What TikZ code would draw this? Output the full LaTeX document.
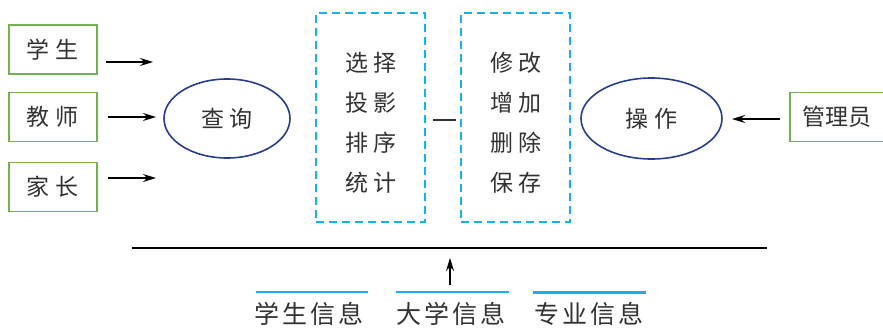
\documentclass[tikz,border=0pt]{standalone}
\usepackage{fontspec}
\setmainfont{Noto Sans CJK SC}
\usetikzlibrary{arrows.meta,shapes.geometric}
\definecolor{gbox}{RGB}{118,176,84}
\definecolor{eblue}{RGB}{40,62,140}
\definecolor{cyanb}{RGB}{24,176,232}
\definecolor{txt}{RGB}{50,50,50}
\newcommand{\zw}{\hspace{6pt}}
\newcommand{\zb}{\hspace{3pt}}
\tikzset{
  x=1pt,y=-1pt,
  every node/.style={text=txt,font=\fontsize{23}{40}\selectfont},
  actor/.style={draw=gbox,line width=1.6pt,minimum width=88pt,minimum height=49pt,inner sep=0pt},
  oval/.style={draw=eblue,line width=1.6pt,ellipse,inner sep=0pt},
  dbox/.style={draw=cyanb,line width=2.8pt,dash pattern=on 8pt off 5pt,minimum width=109pt,minimum height=209pt,inner sep=0pt},
  arr/.style={draw=black,line width=1.3pt,-{Stealth[length=13pt,width=8pt]}},
  cline/.style={draw=cyanb,line width=2.5pt},
  lbl/.style={inner sep=0pt}
}
\begin{document}
\begin{tikzpicture}
\useasboundingbox (0,0) rectangle (883,329);
% actors
\node[actor] (s1) at (53,49.5) {学\zw 生};
\node[actor] (s2) at (53,117) {教\zw 师};
\node[actor] (s3) at (53,187) {家\zw 长};
\node[actor,minimum width=94pt] (adm) at (837,117) {管理员};
% ellipses
\node[oval,minimum width=126pt,minimum height=79pt] (q) at (227,118.5) {查\zw 询};
\node[oval,minimum width=141pt,minimum height=81pt] (op) at (651.5,118.5) {操\zw 作};
% dashed boxes
\node[dbox] (b1) at (370.5,117.5) {};
\node[dbox] (b2) at (515.5,117.5) {};
\node[lbl,align=center] (t1) at (371,123) {选\zw 择\\投\zw 影\\排\zw 序\\统\zw 计};
\node[lbl,align=center] (t2) at (516,123) {修\zw 改\\增\zw 加\\删\zw 除\\保\zw 存};
% arrow end points
\coordinate (a1s) at (106,62); \coordinate (a1e) at (153,62);
\coordinate (a2s) at (108,117); \coordinate (a2e) at (156,117);
\coordinate (a3s) at (108,178); \coordinate (a3e) at (156,178);
\coordinate (a4s) at (780,119); \coordinate (a4e) at (732,119);
\draw[arr] (a1s) -- (a1e);
\draw[arr] (a2s) -- (a2e);
\draw[arr] (a3s) -- (a3e);
\draw[arr] (a4s) -- (a4e);
% dash between boxes
\coordinate (d1) at (433,120); \coordinate (d2) at (456,120);
\draw[draw=txt,line width=1.2pt] (d1) -- (d2);
% bottom line
\coordinate (h1) at (132,248); \coordinate (h2) at (767,248);
\draw[draw=black,line width=2pt] (h1) -- (h2);
% data stores
\node[lbl,font=\fontsize{25}{30}\selectfont] (i1) at (309,314) {学\zb 生\zb 信\zb 息};
\node[lbl,font=\fontsize{25}{30}\selectfont] (i2) at (451,314) {大\zb 学\zb 信\zb 息};
\node[lbl,font=\fontsize{25}{30}\selectfont] (i3) at (589,314) {专\zb 业\zb 信\zb 息};
\draw[cline] (256,292) -- (368,292);
\draw[cline] (396,292) -- (509,292);
\draw[cline] (533,292.5) -- (646,292.5);
\coordinate (up1) at (450,285); \coordinate (up2) at (450,258);
\draw[arr] (up1) -- (up2);
\end{tikzpicture}
\end{document}
